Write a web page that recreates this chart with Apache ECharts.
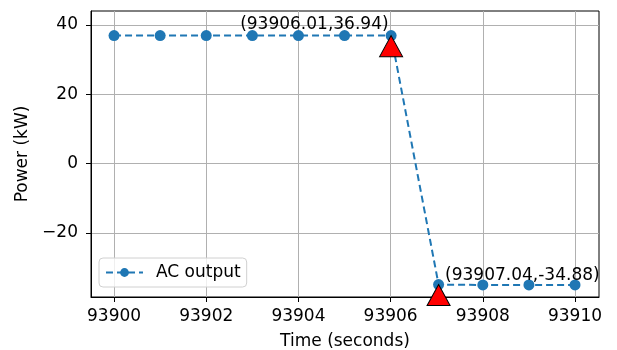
<!DOCTYPE html>
<html>
<head>
<meta charset="utf-8">
<script src="https://cdn.jsdelivr.net/npm/echarts@6/dist/echarts.min.js"></script>
<style>
  html, body { margin: 0; padding: 0; background: #fff; }
  #chart { width: 617px; height: 350px; }
</style>
</head>
<body>
<div id="chart"></div>
<script>
// AC output samples
const times = [93900, 93901, 93902, 93903, 93904, 93905, 93906.01, 93907.04, 93908, 93909, 93910];
const power = [36.94, 36.94, 36.94, 36.94, 36.94, 36.94, 36.94, -34.88, -35.0, -35.0, -35.0];

// switching points (triangle markers sit a bit below the samples)
const markTimes = [93906.01, 93907.04];
const markPower = [33.9, -37.9];
const markValues = [36.94, -34.88];
const markLabels = ['(93906.01,36.94)', '(93907.04,-34.88)'];

const xTicks = [93900, 93902, 93904, 93906, 93908, 93910];
const yTicks = [-20, 0, 20, 40];

const FONT = 'DejaVu Sans';
const FS = 17;
const chart = echarts.init(document.getElementById('chart'));

const axisCommon = {
  axisLine: { show: true, onZero: false, lineStyle: { color: '#000', width: 1 } },
  axisTick: { show: true, length: 5, lineStyle: { color: '#000', width: 1 } },
  axisLabel: { color: '#000', fontFamily: FONT, fontSize: FS },
  splitLine: { show: true, lineStyle: { color: '#b0b0b0', width: 1 } },
  nameTextStyle: { color: '#000', fontFamily: FONT, fontSize: FS },
};

chart.setOption({
  animation: false,
  grid: {
    left: 91, right: 18, top: 11, bottom: 53,
    outerBoundsMode: 'none',
    show: true, borderColor: '#000', borderWidth: 1, backgroundColor: 'transparent',
  },
  xAxis: {
    type: 'value',
    min: 93899.5,
    max: 93910.52,
    name: 'Time (seconds)',
    nameLocation: 'middle',
    nameGap: 36,
    ...axisCommon,
    axisTick: { ...axisCommon.axisTick, customValues: xTicks },
    axisLabel: { ...axisCommon.axisLabel, customValues: xTicks, margin: 11, formatter: v => String(v) },
    splitLine: { ...axisCommon.splitLine, customValues: xTicks },
  },
  yAxis: {
    type: 'value',
    min: -38.47,
    max: 44.04,
    name: 'Power (kW)',
    nameLocation: 'middle',
    nameGap: 54,
    ...axisCommon,
    axisTick: { ...axisCommon.axisTick, customValues: yTicks },
    axisLabel: { ...axisCommon.axisLabel, customValues: yTicks, margin: 13,
      formatter: v => (v < 0 ? '\u2212' + Math.abs(v) : String(v)) },
    splitLine: { ...axisCommon.splitLine, customValues: yTicks },
  },
  legend: {
    data: ['AC output'],
    left: 99,
    top: 258,
    orient: 'vertical',
    padding: [6, 6, 6, 6],
    itemWidth: 37,
    itemHeight: 11,
    backgroundColor: 'rgba(255,255,255,0.8)',
    borderColor: '#d0d0d0',
    borderWidth: 1,
    borderRadius: 4,
    textStyle: { color: '#000', fontFamily: FONT, fontSize: FS, padding: [0, 0, 0, 8] },
  },
  series: [
    {
      name: 'AC output',
      type: 'line',
      data: times.map((t, i) => [t, power[i]]),
      symbol: 'circle',
      symbolSize: 11,
      showSymbol: true,
      itemStyle: { color: '#1f77b4' },
      lineStyle: { color: '#1f77b4', width: 2, type: [7, 4] },
      z: 3,
    },
    {
      name: 'switch',
      type: 'scatter',
      data: markTimes.map((t, i) => [t, markPower[i]]),
      symbol: 'triangle',
      symbolSize: [23, 21],
      itemStyle: { color: '#ff0000', borderColor: '#000', borderWidth: 1, opacity: 1 },
      clip: false,
      z: 4,
    },
    {
      name: 'annot',
      type: 'scatter',
      data: markTimes.map((t, i) => ({
        value: [t, markValues[i]],
        label: {
          show: true,
          formatter: markLabels[i],
          position: i === 0 ? 'left' : 'right',
          offset: i === 0 ? [-2, -11] : [6, -9],
          distance: 0,
          color: '#000',
          opacity: 1,
          fontFamily: FONT,
          fontSize: FS,
        },
      })),
      symbol: 'circle',
      symbolSize: 1,
      itemStyle: { color: 'rgba(0,0,0,0)', opacity: 1 },
      silent: true,
      clip: false,
      z: 5,
    },
  ],
});
</script>
</body>
</html>
